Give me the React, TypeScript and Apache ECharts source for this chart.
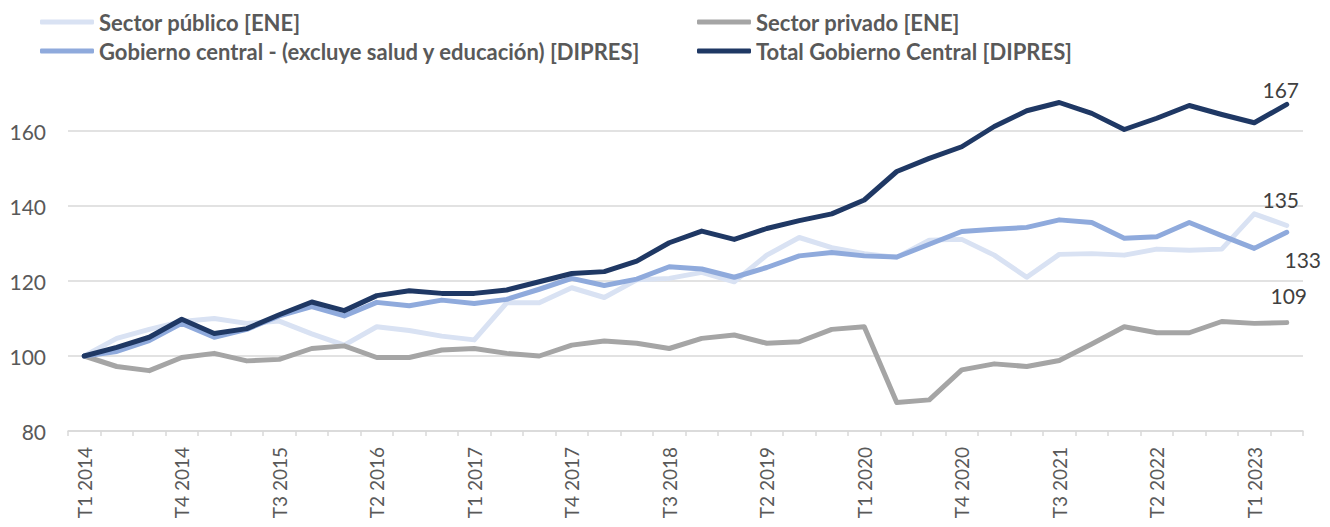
import React, { useEffect, useRef } from 'react';
import * as echarts from 'echarts';

const categories = [
  'T1 2014', 'T2 2014', 'T3 2014', 'T4 2014',
  'T1 2015', 'T2 2015', 'T3 2015', 'T4 2015',
  'T1 2016', 'T2 2016', 'T3 2016', 'T4 2016',
  'T1 2017', 'T2 2017', 'T3 2017', 'T4 2017',
  'T1 2018', 'T2 2018', 'T3 2018', 'T4 2018',
  'T1 2019', 'T2 2019', 'T3 2019', 'T4 2019',
  'T1 2020', 'T2 2020', 'T3 2020', 'T4 2020',
  'T1 2021', 'T2 2021', 'T3 2021', 'T4 2021',
  'T1 2022', 'T2 2022', 'T3 2022', 'T4 2022',
  'T1 2023', 'T2 2023',
];

const sectorPublico = [100, 104.7, 107.1, 109.2, 110.0, 108.7, 109.3, 105.9, 102.9, 107.8, 106.8, 105.3, 104.3, 114.2, 114.2, 118.2, 115.6, 120.3, 120.7, 122.3, 119.8, 126.9, 131.6, 128.9, 127.3, 126.3, 130.9, 131.1, 126.9, 121.0, 127.1, 127.3, 126.9, 128.5, 128.2, 128.5, 137.9, 134.8];
const sectorPrivado = [100, 97.2, 96.1, 99.6, 100.7, 98.7, 99.1, 102.0, 102.7, 99.6, 99.6, 101.6, 102.0, 100.7, 100.0, 102.9, 104.0, 103.4, 102.0, 104.7, 105.6, 103.4, 103.8, 107.1, 107.8, 87.6, 88.3, 96.3, 97.9, 97.2, 98.8, 103.2, 107.8, 106.2, 106.2, 109.2, 108.7, 108.9];
const gobiernoCentral = [100, 101.2, 104.1, 108.7, 105.0, 107.1, 110.7, 113.2, 110.7, 114.3, 113.4, 114.9, 114.0, 115.1, 117.8, 120.7, 118.8, 120.5, 123.8, 123.2, 121.0, 123.6, 126.7, 127.6, 126.7, 126.4, 129.8, 133.2, 133.8, 134.3, 136.3, 135.6, 131.4, 131.8, 135.6, 132.1, 128.7, 133.0];
const totalGobierno = [100, 102.3, 105.0, 109.8, 106.0, 107.3, 111.0, 114.4, 112.1, 116.1, 117.4, 116.7, 116.7, 117.6, 119.8, 122.0, 122.5, 125.3, 130.2, 133.3, 131.1, 134.0, 136.1, 137.9, 141.6, 149.2, 152.7, 155.8, 161.2, 165.4, 167.6, 164.7, 160.4, 163.4, 166.8, 164.4, 162.2, 167.1];

const seriesNames = [
  'Sector público [ENE]',
  'Sector privado [ENE]',
  'Gobierno central - (excluye salud y educación) [DIPRES]',
  'Total Gobierno Central [DIPRES]',
];
const seriesColors = ['#D9E2F3', '#A5A5A5', '#8FAADC', '#1F3864'];

const FONT = 'Lato, "Open Sans", sans-serif';

export default function App() {
  const ref = useRef<HTMLDivElement>(null);

  useEffect(() => {
    if (!ref.current) return;
    const chart = echarts.init(ref.current, null, { renderer: 'svg' });

    const lastLabel = (values: number[], cfg: any) =>
      values.map((v, i) =>
        i === values.length - 1
          ? {
              value: v,
              label: {
                show: true,
                formatter: (p: any) => String(Math.round(p.value)),
                fontFamily: FONT,
                fontSize: 21,
                color: '#404040',
                ...cfg,
              },
            }
          : v
      );

    const mkLegend = (name: string, left: number, top: number) => ({
      data: [name],
      left,
      top,
      padding: 0,
      itemWidth: 54,
      itemHeight: 5,
      icon: 'roundRect',
      selectedMode: false,
      textStyle: { fontFamily: FONT, fontWeight: 'bold', fontSize: 22, color: '#595959' },
    });

    const mkSeries = (idx: number, data: any[]) => ({
      name: seriesNames[idx],
      type: 'line',
      data,
      clip: false,
      showSymbol: true,
      symbol: 'circle',
      symbolSize: 0,
      itemStyle: { color: seriesColors[idx] },
      lineStyle: { width: 5, color: seriesColors[idx], cap: 'round', join: 'round' },
      emphasis: { disabled: true },
    });

    chart.setOption({
      animation: false,
      backgroundColor: '#ffffff',
      textStyle: { fontFamily: FONT },
      legend: [
        mkLegend(seriesNames[0], 40, 11),
        mkLegend(seriesNames[2], 40, 40),
        mkLegend(seriesNames[1], 697, 11),
        mkLegend(seriesNames[3], 697, 40),
      ],
      grid: { left: 68, right: 27, top: 131, bottom: 96, containLabel: false, outerBoundsMode: 'none' },
      xAxis: {
        type: 'category',
        data: categories,
        boundaryGap: true,
        axisLine: { show: true, lineStyle: { color: '#D9D9D9', width: 1.5 } },
        axisTick: { show: true, interval: 0, length: 5, lineStyle: { color: '#D9D9D9', width: 1.5 } },
        axisLabel: {
          interval: 2,
          rotate: 90,
          margin: 16,
          fontFamily: FONT,
          fontSize: 19,
          color: '#595959',
        },
      },
      yAxis: {
        type: 'value',
        min: 80,
        max: 160,
        interval: 20,
        axisLine: { show: false },
        axisTick: { show: false },
        axisLabel: { margin: 22, fontFamily: FONT, fontSize: 21, color: '#595959' },
        splitLine: { show: true, lineStyle: { color: '#D9D9D9', width: 1.5 } },
      },
      series: [
        mkSeries(0, lastLabel(sectorPublico, { position: 'top', distance: 16, offset: [-6, 0] })),
        mkSeries(1, lastLabel(sectorPrivado, { position: 'top', distance: 17, offset: [2, 0] })),
        mkSeries(2, lastLabel(gobiernoCentral, { position: 'bottom', distance: 17, offset: [16, 0] })),
        mkSeries(3, lastLabel(totalGobierno, { position: 'top', distance: 4, offset: [-6, 0] })),
      ],
    });

    return () => chart.dispose();
  }, []);

  return (
    <div
      ref={ref}
      style={{ position: 'absolute', left: 0, top: 0, width: 1330, height: 527, background: '#ffffff' }}
    />
  );
}
